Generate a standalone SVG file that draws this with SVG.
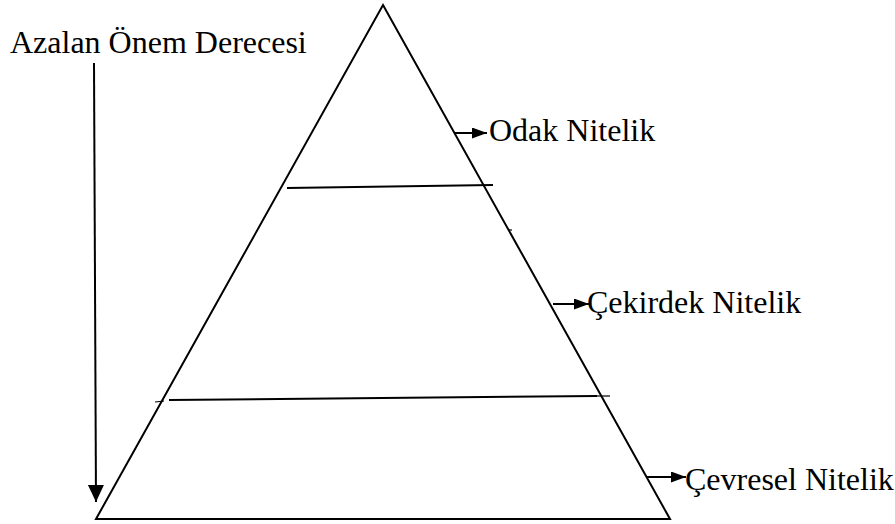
<svg xmlns="http://www.w3.org/2000/svg" width="895" height="524" viewBox="0 0 895 524">
<style>
.ln{stroke:#000;stroke-width:2;fill:none}
.thin{stroke:#000;stroke-width:1.2;fill:none}
.lbl{font-family:"Liberation Serif","Times New Roman",serif;font-size:32px;fill:#000}
</style>
<defs>
<marker id="ah" markerWidth="18" markerHeight="17" refX="17" refY="8" orient="auto" markerUnits="userSpaceOnUse">
<path d="M0,0 L17,8 L0,16 Z" fill="#000"/>
</marker>
<marker id="ahs" markerWidth="16" markerHeight="12" refX="15" refY="5.5" orient="auto" markerUnits="userSpaceOnUse">
<path d="M0,0 L15,5.5 L0,11 Z" fill="#000"/>
</marker>
</defs>
<rect width="895" height="524" fill="#fff"/>
<g id="pyramid">
<path class="ln" d="M383,5 L670,519 L96,519 Z"/>
<line class="ln" x1="287" y1="188" x2="493" y2="185"/>
<line class="thin" x1="509" y1="230" x2="512" y2="230"/>
<line class="ln" x1="169" y1="400" x2="597" y2="396"/>
<line class="thin" x1="155" y1="402" x2="164" y2="401"/>
<line class="thin" x1="597" y1="396" x2="610" y2="396"/>
</g>
<g id="title">
<text class="lbl" x="10" y="53">Azalan Önem Derecesi</text>
</g>
<g id="odak">
<text class="lbl" x="489" y="141">Odak Nitelik</text>
</g>
<g id="cekirdek">
<text class="lbl" x="587" y="313">Çekirdek Nitelik</text>
</g>
<g id="cevresel">
<text class="lbl" x="685" y="490">Çevresel Nitelik</text>
</g>
<g id="connectors">
<line class="ln" x1="94" y1="63" x2="96" y2="502" marker-end="url(#ah)"/>
<line class="ln" x1="455" y1="133" x2="487" y2="133" marker-end="url(#ahs)"/>
<line class="ln" x1="553" y1="304" x2="589" y2="304" marker-end="url(#ahs)"/>
<line class="ln" x1="647" y1="477" x2="686" y2="477" marker-end="url(#ahs)"/>
</g>
</svg>
